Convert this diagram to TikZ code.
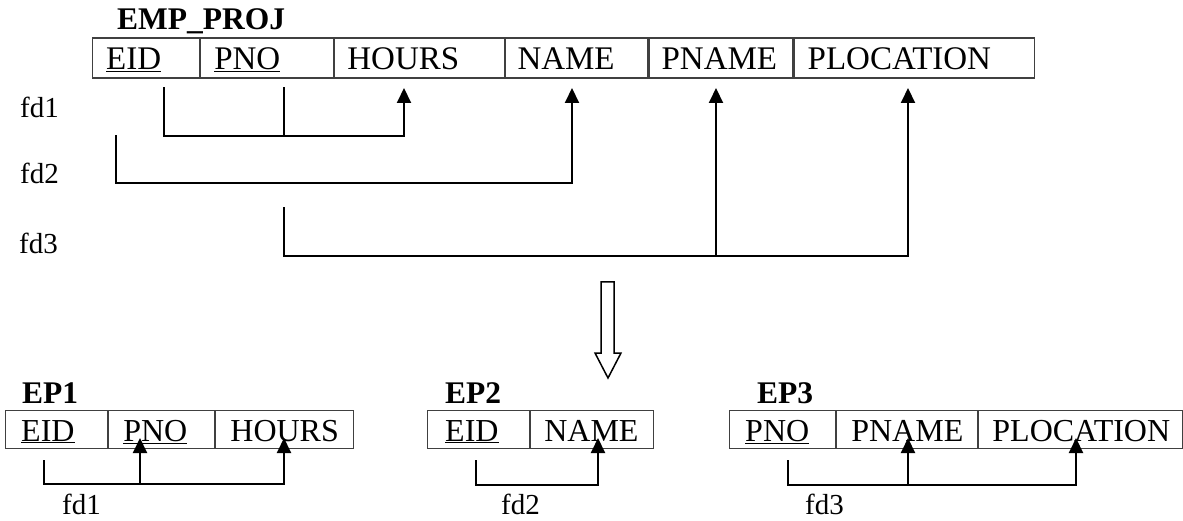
\documentclass[tikz,border=0pt]{standalone}
\usepackage{fontspec}
\setmainfont{Liberation Serif}
\usetikzlibrary{arrows.meta,calc}
\begin{document}
\begin{tikzpicture}[x=1pt,y=-1pt,
  every node/.style={inner sep=0pt},
  cell/.style={draw=black!75, line width=1.1pt, anchor=north west},
  toprow/.style={cell, minimum height=40pt},
  botrow/.style={cell, minimum height=38pt},
  toptext/.style={anchor=base west, font=\fontsize{33}{38}\selectfont},
  bottext/.style={anchor=base west, font=\fontsize{32}{38}\selectfont},
  title/.style={anchor=base west, font=\fontsize{31.5}{36}\selectfont\bfseries},
  lbl/.style={anchor=base west, font=\fontsize{29}{34}\selectfont},
  conn/.style={line width=2pt, line cap=rect},
  fdarrow/.style={line width=2pt, -{Triangle[width=14pt,length=15pt]}},
  blockarrow/.style={draw=black, line width=1.5pt, fill=white, line join=miter}
]
\useasboundingbox (0,0) rectangle (1183,521);

% ---------- EMP_PROJ ----------
\node[title] (tEMP) at (117,30) {EMP\_PROJ};
\node[toprow, minimum width=107pt] (tEID) at (92,37.5) {};
\node[toprow, minimum width=133pt] (tPNO) at (tEID.north east) {};
\node[toprow, minimum width=170pt] (tHOURS) at (tPNO.north east) {};
\node[toprow, minimum width=142pt] (tNAME) at (tHOURS.north east) {};
\node[toprow, minimum width=144pt] (tPNAME) at (tNAME.north east) {};
\node[toprow, minimum width=240pt] (tPLOC) at (tPNAME.north east) {};
\node[toptext] (xEID) at ($(tEID.south west)+(14,-9)$) {\underline{EID}};
\node[toptext] (xPNO) at ($(tPNO.south west)+(14,-9)$) {\underline{PNO}};
\node[toptext] (xHOURS) at ($(tHOURS.south west)+(13,-9)$) {HOURS};
\node[toptext] (xNAME) at ($(tNAME.south west)+(12,-9)$) {NAME};
\node[toptext] (xPNAME) at ($(tPNAME.south west)+(13,-9)$) {PNAME};
\node[toptext] (xPLOC) at ($(tPLOC.south west)+(14,-9)$) {PLOCATION};

\node[lbl] (lfd1) at (20,118) {fd1};
\node[lbl] (lfd2) at (20,184) {fd2};
\node[lbl] (lfd3) at (19,254) {fd3};

% fd1
\coordinate (a1) at (164,88);
\coordinate (a1b) at (164,136);
\coordinate (a2) at (284,88);
\coordinate (a2b) at (284,136);
\coordinate (a3b) at (404,136);
\coordinate (a3) at (404,88);
\draw[conn] (a1) -- (a1b) -- (a3b);
\draw[conn] (a2) -- (a2b);
\draw[fdarrow] (a3b) -- (a3);
% fd2
\coordinate (b1) at (116,136);
\coordinate (b1b) at (116,183);
\coordinate (b2b) at (572,183);
\coordinate (b2) at (572,88);
\draw[conn] (b1) -- (b1b) -- (b2b);
\draw[fdarrow] (b2b) -- (b2);
% fd3
\coordinate (c1) at (284,208);
\coordinate (c1b) at (284,256);
\coordinate (c2b) at (716,256);
\coordinate (c2) at (716,88);
\coordinate (c3b) at (908,256);
\coordinate (c3) at (908,88);
\draw[conn] (c1) -- (c1b) -- (c3b);
\draw[fdarrow] (c2b) -- (c2);
\draw[fdarrow] (c3b) -- (c3);

% ---------- block arrow ----------
\draw[blockarrow] (601,282) -- (614,282) -- (614,353) -- (621,353) -- (608,378)
  -- (595,353) -- (601,353) -- cycle;

% ---------- EP1 ----------
\node[title] (tEP1) at (22,403) {EP1};
\node[botrow, minimum width=102pt] (e1EID) at (5,410) {};
\node[botrow, minimum width=106pt] (e1PNO) at (e1EID.north east) {};
\node[botrow, minimum width=138pt] (e1HOURS) at (e1PNO.north east) {};
\node[bottext] (y1EID) at ($(e1EID.south west)+(16,-8)$) {\underline{EID}};
\node[bottext] (y1PNO) at ($(e1PNO.south west)+(15,-8)$) {\underline{PNO}};
\node[bottext] (y1HOURS) at ($(e1HOURS.south west)+(15,-8)$) {HOURS};
\coordinate (p1) at (44,461);
\coordinate (p1b) at (44,484);
\coordinate (p2b) at (140,484);
\coordinate (p2) at (140,438);
\coordinate (p3b) at (284,484);
\coordinate (p3) at (284,438);
\draw[conn] (p1) -- (p1b) -- (p3b);
\draw[fdarrow] (p2b) -- (p2);
\draw[fdarrow] (p3b) -- (p3);
\node[lbl] (bfd1) at (62,514) {fd1};

% ---------- EP2 ----------
\node[title] (tEP2) at (445,403) {EP2};
\node[botrow, minimum width=102pt] (e2EID) at (427,410) {};
\node[botrow, minimum width=123pt] (e2NAME) at (e2EID.north east) {};
\node[bottext] (y2EID) at ($(e2EID.south west)+(18,-8)$) {\underline{EID}};
\node[bottext] (y2NAME) at ($(e2NAME.south west)+(14,-8)$) {NAME};
\coordinate (q1) at (476,461);
\coordinate (q1b) at (476,485);
\coordinate (q2b) at (598,485);
\coordinate (q2) at (598,438);
\draw[conn] (q1) -- (q1b) -- (q2b);
\draw[fdarrow] (q2b) -- (q2);
\node[lbl] (bfd2) at (501,514) {fd2};

% ---------- EP3 ----------
\node[title] (tEP3) at (757,403) {EP3};
\node[botrow, minimum width=106pt] (e3PNO) at (729,410) {};
\node[botrow, minimum width=141pt] (e3PNAME) at (e3PNO.north east) {};
\node[botrow, minimum width=204pt] (e3PLOC) at (e3PNAME.north east) {};
\node[bottext] (y3PNO) at ($(e3PNO.south west)+(16,-8)$) {\underline{PNO}};
\node[bottext] (y3PNAME) at ($(e3PNAME.south west)+(15,-8)$) {PNAME};
\node[bottext] (y3PLOC) at ($(e3PLOC.south west)+(14,-8)$) {PLOCATION};
\coordinate (r1) at (788,461);
\coordinate (r1b) at (788,485);
\coordinate (r2b) at (908,485);
\coordinate (r2) at (908,438);
\coordinate (r3b) at (1076,485);
\coordinate (r3) at (1076,438);
\draw[conn] (r1) -- (r1b) -- (r3b);
\draw[fdarrow] (r2b) -- (r2);
\draw[fdarrow] (r3b) -- (r3);
\node[lbl] (bfd3) at (805,514) {fd3};
\end{tikzpicture}
\end{document}
